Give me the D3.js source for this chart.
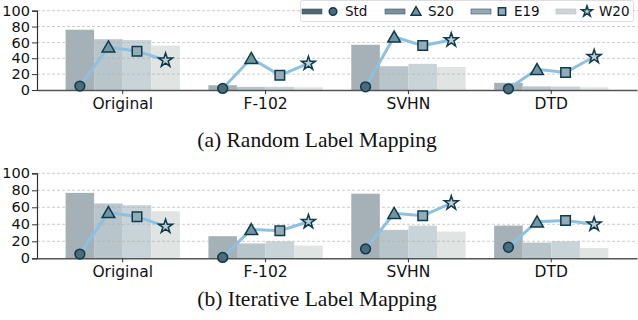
<!DOCTYPE html>
<html>
<head>
<meta charset="UTF-8">
<script src="https://d3js.org/d3.v7.min.js"></script>
<style>
  body { margin: 0; background: #fff; }
  svg { display: block; }
</style>
</head>
<body>
<svg id="chart" width="638" height="320"></svg>
<script>
// data
const datasets = ["Original", "F-102", "SVHN", "DTD"];
const methods = ["Std", "S20", "E19", "W20"];
const yTicks = [0, 20, 40, 60, 80, 100];

// (a) random label mapping: bar values and line values per dataset
const randBars = [
  [76, 64, 63, 56],
  [6, 4, 4, 3.5],
  [57, 30, 33, 29],
  [9, 4.5, 4.5, 3.5]
];
const randLine = [
  [5, 54.5, 49, 37.5],
  [2, 40, 18.5, 33.5],
  [4, 67, 56, 63],
  [1.5, 26, 22, 42]
];
// (b) iterative label mapping
const iterBars = [
  [77, 64.5, 62.5, 55.5],
  [26, 17.5, 20, 15],
  [76, 33.5, 38.5, 31.5],
  [38.5, 18.5, 20, 12]
];
const iterLine = [
  [5, 54, 49, 37.5],
  [1, 34, 32.5, 43],
  [11, 53, 50, 65],
  [13, 43, 44.5, 40]
];

const barColors = ["#a5b0b7", "#b8c5cb", "#c9d4d9", "#e0e4e3"];
const patchColors = ["#4f6878", "#7890a0", "#95aab3", "#cdd4d5"];
const markerFill = ["#4d6b79", "#7594a1", "#94acb7", "#c3ced3"];
const markerEdge = "#0d3b4d";
const lineColor = "#8ec0e2";

const svg = d3.select("#chart");
const x = d3.scaleBand().domain(datasets).range([37, 637]).paddingInner(0).paddingOuter(0.1);
const bw = x.step() * 0.2;
const off = i => (i - 1.5) * bw;

const symbols = [d3.symbolCircle, d3.symbolTriangle, d3.symbolSquare, d3.symbolStar];
const symSize = [75, 70, 90, 60];

function marker(g, i, cx, cy, k = 1) {
  g.append("path")
    .attr("d", d3.symbol().type(symbols[i]).size(symSize[i] * k)())
    .attr("transform", `translate(${cx},${cy + (i === 1 ? 1.5 * k : 0)})`)
    .attr("fill", markerFill[i])
    .attr("stroke", markerEdge)
    .attr("stroke-width", 1.5);
}

function panel(top, bottom, bars, line, caption, capY) {
  const y = d3.scaleLinear().domain([0, 100]).range([bottom, top]);
  const g = svg.append("g");

  // bars
  bars.forEach((vals, di) => {
    g.selectAll(null).data(vals).enter().append("rect")
      .attr("x", (d, i) => x(datasets[di]) + x.bandwidth() / 2 + off(i) - bw / 2)
      .attr("width", bw)
      .attr("y", d => y(d))
      .attr("height", d => y(0) - y(d))
      .attr("fill", (d, i) => barColors[i]);
  });

  // grid
  g.selectAll(null).data(yTicks.slice(1)).enter().append("line")
    .attr("x1", 37).attr("x2", 638)
    .attr("y1", d => y(d)).attr("y2", d => y(d))
    .attr("stroke", "#b0b0b0").attr("stroke-width", 0.8)
    .attr("stroke-dasharray", "3,2").attr("opacity", 0.8);

  // axes
  const ya = g.append("g").attr("transform", "translate(37,0)")
    .call(d3.axisLeft(y).tickValues(yTicks).tickSize(5).tickPadding(2));
  ya.select(".domain").attr("stroke", "#333").attr("stroke-width", 1.2);
  ya.selectAll(".tick line").attr("stroke", "#333");
  ya.selectAll("text").attr("font-family", "DejaVu Sans").attr("font-size", 14.5).attr("fill", "#111");

  const xa = g.append("g").attr("transform", `translate(0,${bottom})`)
    .call(d3.axisBottom(x).tickSize(4).tickPadding(4).tickSizeOuter(0));
  xa.select(".domain").attr("stroke", "#555").attr("stroke-width", 1.5);
  xa.selectAll(".tick line").attr("stroke", "#333");
  xa.selectAll("text").attr("font-family", "DejaVu Sans").attr("font-size", 15.5).attr("fill", "#111");

  // lines + markers
  const lg = d3.line().x(d => d[0]).y(d => d[1]);
  line.forEach((vals, di) => {
    const pts = vals.map((v, i) => [x(datasets[di]) + x.bandwidth() / 2 + off(i), y(v)]);
    g.append("path").attr("d", lg(pts)).attr("fill", "none")
      .attr("stroke", lineColor).attr("stroke-width", 3);
    pts.forEach((p, i) => marker(g, i, p[0], p[1]));
  });

  svg.append("text").attr("x", 317).attr("y", capY).attr("text-anchor", "middle")
    .attr("font-family", "Liberation Serif").attr("font-size", 21.5).attr("fill", "#111")
    .text(caption);
}

panel(10.7, 90, randBars, randLine, "(a) Random Label Mapping", 147);
panel(173.3, 258.3, iterBars, iterLine, "(b) Iterative Label Mapping", 306);

// legend
const leg = svg.append("g");
leg.append("rect").attr("x", 300.5).attr("y", 0.5).attr("width", 333).attr("height", 21)
  .attr("rx", 2).attr("fill", "#fff").attr("fill-opacity", 0.9)
  .attr("stroke", "#ddd");
const legX = [302, 385, 471, 556];
methods.forEach((m, i) => {
  const lx = legX[i];
  leg.append("rect").attr("x", lx).attr("y", 9).attr("width", 20).attr("height", 5)
    .attr("fill", patchColors[i]).attr("stroke", i === 3 ? "#bbb" : "#3d5563").attr("stroke-width", 0.6);
  marker(leg, i, lx + 31, 11.5, 0.6);
  leg.append("text").attr("x", lx + 43).attr("y", 16)
    .attr("font-family", "DejaVu Sans").attr("font-size", 13.5).attr("fill", "#111")
    .text(m);
});
</script>
</body>
</html>
